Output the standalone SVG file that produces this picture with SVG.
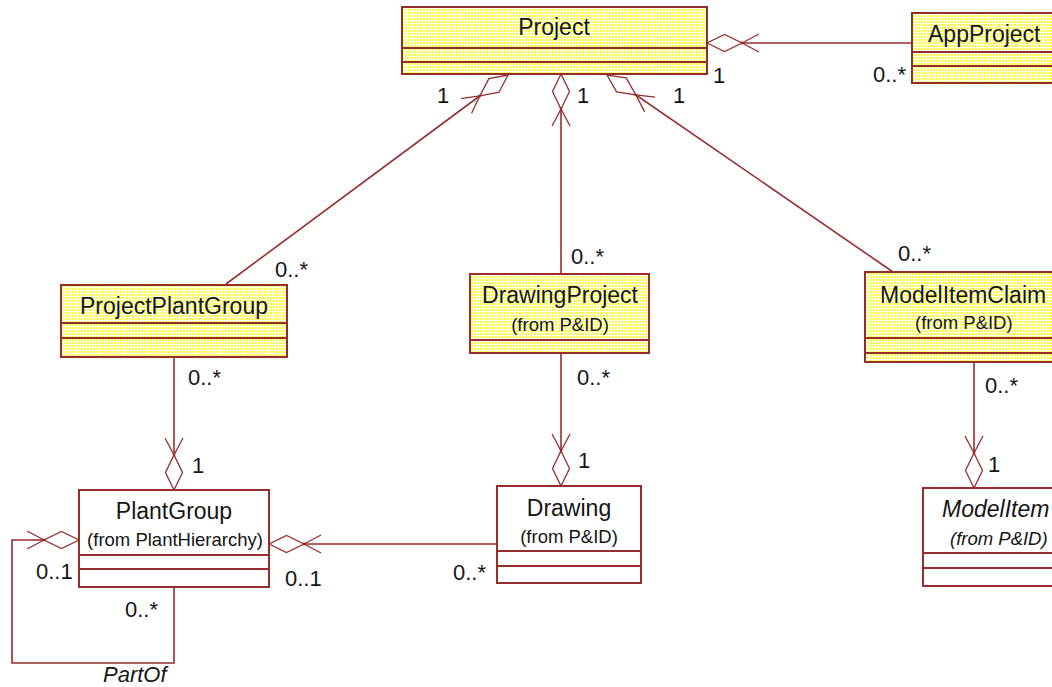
<svg xmlns="http://www.w3.org/2000/svg" width="1052" height="687" viewBox="0 0 1052 687">
<style>
.box{stroke:#962d2d;stroke-width:2}
.yel{fill:url(#dots)}
.wht{fill:#ffffff}
.div{stroke:#962d2d;stroke-width:2;fill:none}
.t{font-family:"Liberation Sans",Arial,sans-serif;font-size:23px;fill:#151515}
.s{font-family:"Liberation Sans",Arial,sans-serif;font-size:18.5px;fill:#151515}
.m{font-family:"Liberation Sans",Arial,sans-serif;font-size:22px;fill:#151515}
.i{font-style:italic}
.c{text-anchor:middle}
.ln{stroke:#962d2d;stroke-width:1.6;fill:none;marker-end:url(#agg)}
</style>
<defs>
<pattern id="dots" patternUnits="userSpaceOnUse" x="0" y="0" width="3" height="3">
<rect width="3" height="3" fill="#ffffff"/>
<rect width="2" height="2" fill="#ffff33"/>
</pattern>
<marker id="agg" markerUnits="userSpaceOnUse" orient="auto" refX="0" refY="0" markerWidth="60" markerHeight="24" viewBox="-56 -12 60 24" overflow="visible">
<path d="M0 0 L-17.5 -8.5 L-35 0 L-17.5 8.5 Z" fill="#ffffff" stroke="#962d2d" stroke-width="1.3"/>
<path d="M-35 0 L-52 -9 M-35 0 L-52 9" fill="none" stroke="#962d2d" stroke-width="1.3"/>
<circle cx="-35" cy="0" r="1.4" fill="#962d2d"/>
</marker>
</defs>
<rect width="1052" height="687" fill="#ffffff"/>

<g id="connectors">
<path class="ln" d="M912 43 L707 43"/>
<path class="ln" d="M226 284 L508 75"/>
<path class="ln" d="M561 274 L561 74"/>
<path class="ln" d="M893 272 L607 75"/>
<path class="ln" d="M174 357 L174 490"/>
<path class="ln" d="M561 353 L561 486"/>
<path class="ln" d="M974 362 L974 488"/>
<path class="ln" d="M497 544 L269 544"/>
<path class="ln" d="M174 587 L174 663 L12 663 L12 540 L79 540"/>
</g>

<g id="labels">
<text class="m" x="713" y="83">1</text>
<text class="m" x="873" y="82">0..*</text>
<text class="m" x="437" y="103">1</text>
<text class="m" x="577" y="103">1</text>
<text class="m" x="673" y="103">1</text>
<text class="m" x="275" y="277">0..*</text>
<text class="m" x="571" y="264">0..*</text>
<text class="m" x="898" y="261">0..*</text>
<text class="m" x="188" y="385">0..*</text>
<text class="m" x="577" y="385">0..*</text>
<text class="m" x="985" y="393">0..*</text>
<text class="m" x="192" y="473">1</text>
<text class="m" x="578" y="468">1</text>
<text class="m" x="988" y="472">1</text>
<text class="m" x="285" y="586">0..1</text>
<text class="m" x="453" y="580">0..*</text>
<text class="m" x="36" y="579">0..1</text>
<text class="m" x="125" y="617">0..*</text>
<text class="m i" x="103" y="682">PartOf</text>
</g>

<g id="Project">
<rect class="box yel" x="402" y="7" width="305" height="67"/>
<path class="div" d="M402 48 H707 M402 62 H707"/>
<text class="t c" x="554" y="35">Project</text>
</g>

<g id="AppProject">
<rect class="box yel" x="912" y="13" width="150" height="70"/>
<path class="div" d="M912 52 H1062 M912 66 H1062"/>
<text class="t" x="928" y="42">AppProject</text>
</g>

<g id="ProjectPlantGroup">
<rect class="box yel" x="61" y="285" width="226" height="72"/>
<path class="div" d="M61 323 H287 M61 338 H287"/>
<text class="t c" x="174" y="314">ProjectPlantGroup</text>
</g>

<g id="DrawingProject">
<rect class="box yel" x="470" y="274" width="179" height="79"/>
<path class="div" d="M470 340 H649"/>
<text class="t c" x="560" y="303">DrawingProject</text>
<text class="s c" x="560" y="331">(from P&amp;ID)</text>
</g>

<g id="ModelItemClaim">
<rect class="box yel" x="865" y="272" width="200" height="90"/>
<path class="div" d="M865 338 H1065 M865 353 H1065"/>
<text class="t" x="880" y="303">ModelItemClaim</text>
<text class="s" x="915" y="329">(from P&amp;ID)</text>
</g>

<g id="PlantGroup">
<rect class="box wht" x="79" y="490" width="190" height="97"/>
<path class="div" d="M79 555 H269 M79 569 H269"/>
<text class="t c" x="174" y="519">PlantGroup</text>
<text class="s c" x="175" y="546">(from PlantHierarchy)</text>
</g>

<g id="Drawing">
<rect class="box wht" x="497" y="486" width="144" height="97"/>
<path class="div" d="M497 551 H641 M497 566 H641"/>
<text class="t c" x="569" y="516">Drawing</text>
<text class="s c" x="569" y="543">(from P&amp;ID)</text>
</g>

<g id="ModelItem">
<rect class="box wht" x="923" y="488" width="140" height="98"/>
<path class="div" d="M923 553 H1063 M923 568 H1063"/>
<text class="t i" x="942" y="517">ModelItem</text>
<text class="s i" x="950" y="545">(from P&amp;ID)</text>
</g>
</svg>
